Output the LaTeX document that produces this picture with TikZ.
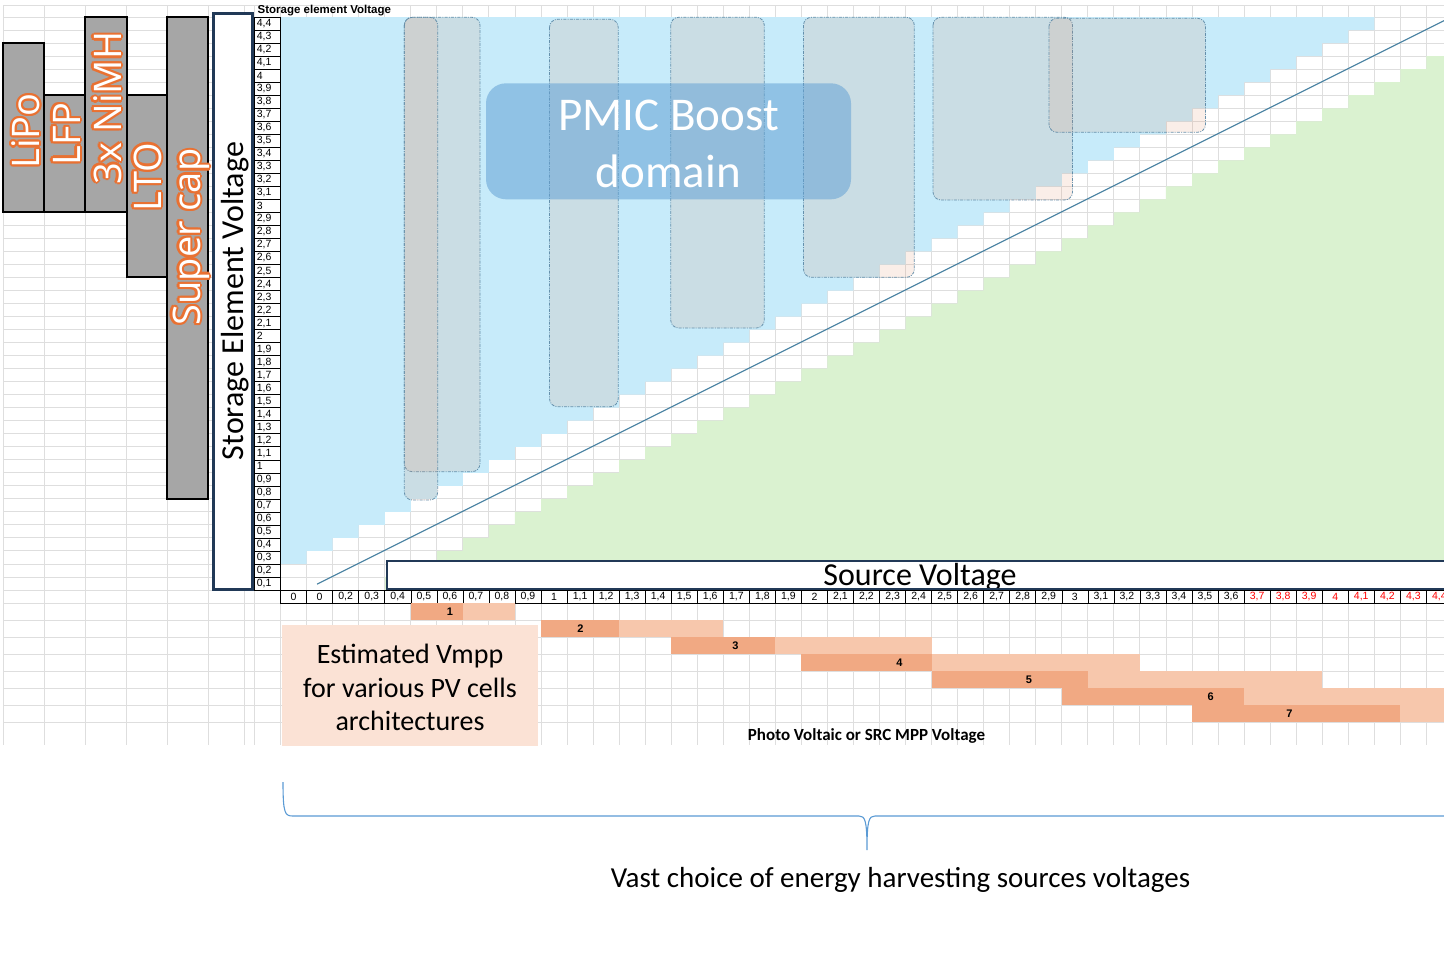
\documentclass[tikz,border=0pt]{standalone}
\usepackage{fontspec}
\usetikzlibrary{calc}
\newfontfamily\calib{Carlito}
\newfontfamily\arialf{Liberation Sans}
\newfontfamily\segoe{Open Sans}

\definecolor{sheetgray}{RGB}{222,222,222}
\definecolor{skyfill}{RGB}{199,235,250}
\definecolor{leaffill}{RGB}{218,242,208}
\definecolor{rangefill}{RGB}{225,145,105}
\definecolor{rangeedge}{RGB}{90,135,165}
\definecolor{pmicblue}{RGB}{100,162,212}
\definecolor{navyedge}{RGB}{33,57,87}
\definecolor{chemgray}{RGB}{166,166,166}
\definecolor{halo}{RGB}{233,113,50}
\definecolor{pvdarkc}{RGB}{241,169,131}
\definecolor{pvlightc}{RGB}{247,199,172}
\definecolor{notefill}{RGB}{251,226,213}
\definecolor{diagline}{RGB}{70,128,160}
\definecolor{bracec}{RGB}{91,155,213}
\definecolor{redlabel}{RGB}{255,0,0}

% white text with an orange halo, written upwards
\newcommand\chemlabel[3]{%
  \foreach \ang [count=\i] in {0,30,...,330}
    \node[chemtext, text=halo] (#1-halo\i) at ($(#2)+(\ang:2.2)$) {#3};
  \node[chemtext, text=white] (#1) at (#2) {#3};
}

\begin{document}
\begin{tikzpicture}[x=1pt,y=-1pt,
  sheetline/.style={draw=sheetgray, line width=0.9pt},
  vrange/.style={fill=rangefill, fill opacity=0.15, draw=rangeedge, draw opacity=0.9,
    line width=0.8pt, dash pattern=on 3pt off 1.2pt on 1pt off 1.2pt, rounded corners=8pt},
  axiscell/.style={draw=black, line width=0.6pt, fill=white},
  axisframe/.style={draw=navyedge, line width=2.6pt},
  ylab/.style={anchor=west, inner sep=0pt, font=\arialf\fontsize{10.5}{11}\selectfont},
  xlab/.style={inner sep=0pt, font=\arialf\fontsize{10.5}{11}\selectfont},
  chembar/.style={fill=chemgray, draw=black, line width=2pt},
  chemtext/.style={rotate=90, anchor=base, inner sep=0pt, font=\segoe\fontsize{38}{40}\selectfont},
  axistitle/.style={anchor=base, inner sep=0pt, font=\calib\fontsize{32}{34}\selectfont},
  pmictext/.style={anchor=base, inner sep=0pt, text=white, font=\calib\fontsize{47}{50}\selectfont},
  pvnum/.style={inner sep=0pt, font=\arialf\bfseries\fontsize{11}{12}\selectfont},
  notetext/.style={anchor=base, inner sep=0pt, font=\calib\fontsize{28}{30}\selectfont},
  bracetext/.style={anchor=base, inner sep=0pt, font=\calib\fontsize{29}{31}\selectfont}]

\path[use as bounding box] (0,0) rectangle (1444,977);
\clip (0,0) rectangle (1444,977);
\fill[white] (0,0) rectangle (1444,977);

% ---- spreadsheet grid ----
\foreach \x in {3.3,44.3,85.3,126.7,167.7,208.7,244,254.3}
  \draw[sheetline] (\x,5) -- (\x,745);
\foreach \k in {0,...,45}
  \draw[sheetline] ({280.6+26.04*\k},5) -- ({280.6+26.04*\k},745);
\draw[sheetline] (3.3,5) -- (1444,5);
\foreach \n in {0,...,44}
  \draw[sheetline] (3.3,{17.12+13.02*\n}) -- (1444,{17.12+13.02*\n});
\foreach \y in {603.3,620.3,637.3,654.3,671.3,688.3,705.3,722.3}
  \draw[sheetline] (3.3,\y) -- (1444,\y);

% ---- operating domains: boost area above, buck area below ----
\begin{scope}[shift={(280.6,590)}, x=26.04pt, y=13.02pt]
  \fill[skyfill] (0,44) \foreach \j in {44,43,...,3} { -- ({\j-2},\j) -- ({\j-2},{\j-1}) } -- (0,2) -- cycle;
  \fill[leaffill] (4,0) \foreach \j in {1,...,44} { -- ({\j+3},{\j-1}) -- ({\j+3},\j) } -- (50,44) -- (50,0) -- cycle;
\end{scope}

% ---- storage voltage ranges ----
\foreach \xa/\ya/\xb/\yb in {404.3/17.3/480/471.7, 404.3/17.3/437.7/500,
    549.5/19.3/618.2/406.7, 670.7/17.3/764.3/328, 803.5/17.3/914.3/277.3,
    933/17.3/1072.5/200, 1049/18.3/1205.5/132.3}
  \draw[vrange] (\xa,\ya) rectangle (\xb,\yb);

% ---- PMIC boost domain ----
\fill[pmicblue, opacity=0.55, rounded corners=20pt] (486,83.3) rectangle (851,199.3);
\node[pmictext] (pmic-l1) at (668.5,130) {PMIC Boost};
\node[pmictext] (pmic-l2) at (668.5,187) {domain};

% ---- axes ----
\begin{scope}[shift={(280.6,590)}, x=26.04pt, y=13.02pt]
  \coordinate (diag-a) at (1.4,0.45);
  \coordinate (diag-b) at (46,45.05);
  \draw[diagline, line width=1.2pt] (diag-a) -- (diag-b);
  \foreach \j in {1,...,44} {
    \pgfmathtruncatemacro\ia{div(\j,10)}
    \pgfmathtruncatemacro\ib{mod(\j,10)}
    \ifnum\ib=0 \edef\lab{\ia}\else\edef\lab{\ia,\ib}\fi
    \draw[axiscell] (-1,{\j-1}) rectangle (0,\j);
    \node[ylab] (ylab-\j) at (-0.92,{\j-0.5}) {\lab};
  }
  \foreach \k in {0,...,44} {
    \pgfmathtruncatemacro\ia{div(\k,10)}
    \pgfmathtruncatemacro\ib{mod(\k,10)}
    \ifnum\ib=0 \edef\lab{\ia}\else\edef\lab{\ia,\ib}\fi
    \ifnum\k=1 \edef\lab{0}\fi
    \ifnum\k<37 \def\labcol{black}\else\def\labcol{redlabel}\fi
    \draw[axiscell] (\k,0) rectangle ({\k+1},-1.02);
    \node[xlab, text=\labcol] (xlab-\k) at ({\k+0.5},-0.51) {\lab};
  }
\end{scope}
\node[anchor=base west, inner sep=0pt, font=\arialf\bfseries\fontsize{11.5}{12}\selectfont]
  (storage-head) at (257.5,13.6) {Storage element Voltage};

% storage element axis title
\fill[white] (213.3,13.3) rectangle (252.3,589.3);
\node[axistitle, rotate=90] (storage-title) at (243.5,301) {Storage Element Voltage};
\draw[axisframe] (213.3,13.3) rectangle (252.3,589.3);

% source axis title
\fill[white] (387,561) rectangle (1460,589);
\begin{scope}
  \clip (387,561) rectangle (1460,588.5);
  \node[axistitle] (source-title) at (920,585) {Source Voltage};
\end{scope}
\draw[axisframe] (387,561) rectangle (1460,589);

% ---- storage chemistries ----
\draw[chembar] (2.7,42.7) rectangle (44.3,212.3);
\draw[chembar] (44.3,95) rectangle (85.3,212.3);
\draw[chembar] (85.3,16.7) rectangle (126.7,212.3);
\draw[chembar] (126.7,95) rectangle (166.7,276.7);
\draw[chembar] (166.7,16.7) rectangle (208.3,499);
\chemlabel{lipo}{39.5,131}{LiPo}
\chemlabel{lfp}{80,134}{LFP}
\chemlabel{nimh}{121,108}{3x NiMH}
\chemlabel{lto}{161,177}{LTO}
\chemlabel{supercap}{200,237}{Super cap}

% ---- PV maximum power point ranges ----
\begin{scope}[shift={(280.6,603.3)}, x=26.04pt, y=-17pt]
  \foreach \r/\da/\db/\dc/\lm in {1/5/7/9/6.5, 2/10/13/17/11.51, 3/15/19/25/17.47,
      4/20/25/33/23.76, 5/25/31/40/28.74, 6/30/37/50/35.72, 7/35/43/50/38.74} {
    \fill[pvlightc] (\db,{\r-1}) rectangle (\dc,\r);
    \fill[pvdarkc] (\da,{\r-1}) rectangle (\db,\r);
    \node[pvnum] (pv-\r) at (\lm,{\r-0.5}) {\r};
  }
\end{scope}
\node[anchor=base, inner sep=0pt, font=\calib\bfseries\fontsize{17}{18}\selectfont]
  (pv-axis) at (866.5,740.5) {Photo Voltaic or SRC MPP Voltage};

\fill[notefill] (282,625) rectangle (537.6,746);
\node[notetext] (note-1) at (410,663) {Estimated Vmpp};
\node[notetext] (note-2) at (410,697) {for various PV cells};
\node[notetext] (note-3) at (410,730) {architectures};

% ---- brace over the source range ----
\coordinate (brace-top) at (283,782);
\coordinate (brace-tip) at (867,850);
\coordinate (brace-end) at (1450,816);
\draw[bracec, line width=1.1pt] (brace-top) .. controls (283,814) and (285,816) .. (293,816)
  -- (859,816) .. controls (865,816) and (867,820) .. (brace-tip)
  .. controls (867,820) and (869,816) .. (875,816) -- (brace-end);
\node[bracetext] (brace-label) at (900.5,887) {Vast choice of energy harvesting sources voltages};

\end{tikzpicture}
\end{document}
